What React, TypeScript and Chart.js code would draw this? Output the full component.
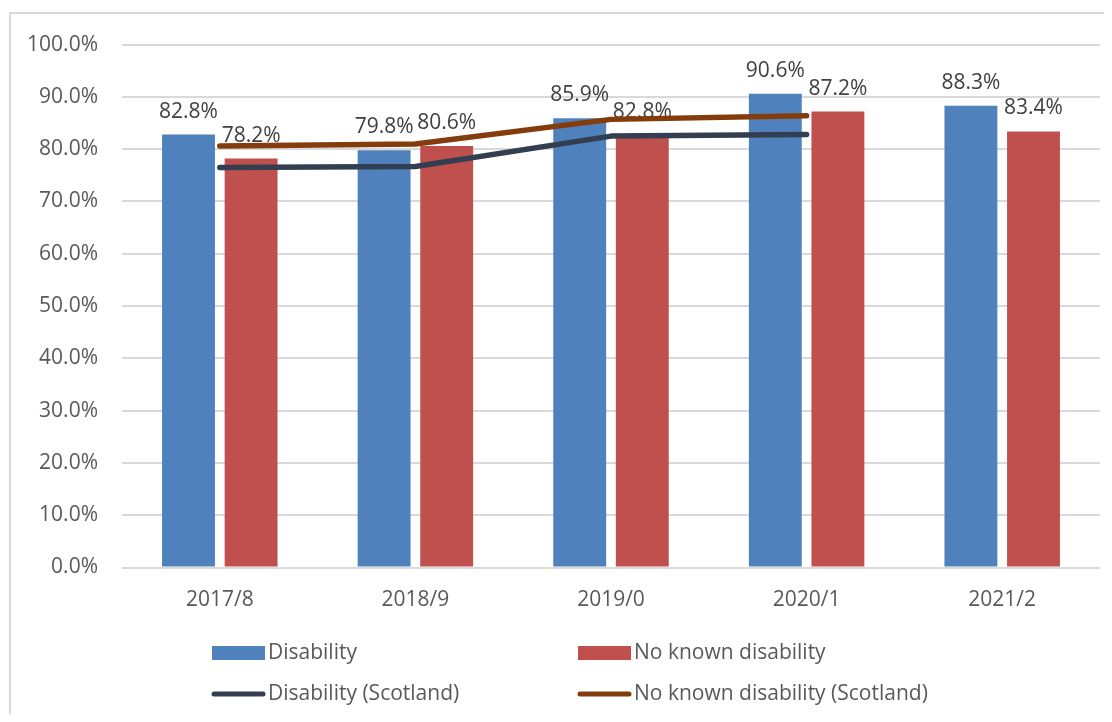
import React, { useEffect, useRef } from 'react';
import { Chart, registerables } from 'chart.js';

Chart.register(...registerables);

const categories = ['2017/8', '2018/9', '2019/0', '2020/1', '2021/2'];
const disability = [82.8, 79.8, 85.9, 90.6, 88.3];
const noKnownDisability = [78.2, 80.6, 82.8, 87.2, 83.4];
const disabilityScotland: (number | null)[] = [76.5, 76.7, 82.5, 82.8, null];
const noKnownDisabilityScotland: (number | null)[] = [80.6, 81.0, 85.7, 86.4, null];
const seriesNames = ['Disability', 'No known disability', 'Disability (Scotland)', 'No known disability (Scotland)'];

const FONT = "'Open Sans', 'Noto Sans', sans-serif";
const W = 1104;
const H = 706;

const barLabelPlugin = {
  id: 'barLabels',
  afterDatasetDraw(chart: any, args: any) {
    const ds = chart.data.datasets[args.index];
    if (ds.type !== 'bar') return;
    const ctx = chart.ctx;
    ctx.save();
    ctx.font = `21px ${FONT}`;
    ctx.fillStyle = '#404040';
    ctx.textAlign = 'center';
    ctx.textBaseline = 'alphabetic';
    args.meta.data.forEach((el: any, i: number) => {
      const v = ds.data[i];
      if (v == null) return;
      ctx.fillText(v.toFixed(1) + '%', el.x, el.y - 17);
    });
    ctx.restore();
  },
};

const legendPlugin = {
  id: 'gridLegend',
  afterDraw(chart: any) {
    const ctx = chart.ctx;
    const cols = [204, 570];
    const rows = [645, 686];
    ctx.save();
    ctx.font = `21px ${FONT}`;
    ctx.textBaseline = 'middle';
    ctx.textAlign = 'left';
    chart.data.datasets.forEach((ds: any, i: number) => {
      const x = cols[i % 2];
      const y = rows[Math.floor(i / 2)];
      if (ds.type === 'line') {
        ctx.strokeStyle = ds.borderColor;
        ctx.lineWidth = 5;
        ctx.lineCap = 'round';
        ctx.beginPath();
        ctx.moveTo(x + 2, y);
        ctx.lineTo(x + 51, y);
        ctx.stroke();
      } else {
        ctx.fillStyle = ds.backgroundColor;
        ctx.fillRect(x, y - 7, 53, 14);
      }
      ctx.fillStyle = '#595959';
      ctx.fillText(ds.label, x + 56, y);
    });
    ctx.restore();
  },
};

export default function App() {
  const ref = useRef<HTMLCanvasElement>(null);
  useEffect(() => {
    if (!ref.current) return;
    const chart = new Chart(ref.current, {
      type: 'bar',
      data: {
        labels: categories,
        datasets: [
          {
            type: 'bar',
            label: seriesNames[0],
            data: disability,
            backgroundColor: '#4F81BD',
            categoryPercentage: 0.64,
            barPercentage: 0.845,
            order: 2,
          },
          {
            type: 'bar',
            label: seriesNames[1],
            data: noKnownDisability,
            backgroundColor: '#C0504D',
            categoryPercentage: 0.64,
            barPercentage: 0.845,
            order: 2,
          },
          {
            type: 'line',
            label: seriesNames[2],
            data: disabilityScotland,
            borderColor: '#333F50',
            backgroundColor: '#333F50',
            borderWidth: 5.5,
            pointRadius: 0,
            borderCapStyle: 'round',
            borderJoinStyle: 'round',
            spanGaps: false,
            order: 1,
          },
          {
            type: 'line',
            label: seriesNames[3],
            data: noKnownDisabilityScotland,
            borderColor: '#843C0C',
            backgroundColor: '#843C0C',
            borderWidth: 5.5,
            pointRadius: 0,
            borderCapStyle: 'round',
            borderJoinStyle: 'round',
            spanGaps: false,
            order: 1,
          },
        ] as any,
      },
      options: {
        responsive: false,
        animation: false,
        layout: { padding: { top: 32, right: 12, left: 0, bottom: 0 } },
        plugins: {
          legend: { display: false },
          tooltip: { enabled: false },
          title: { display: false },
        },
        scales: {
          x: {
            grid: { display: false, drawTicks: false },
            border: { display: false },
            ticks: {
              color: '#595959',
              font: { family: FONT, size: 21 },
              padding: 20,
            },
            afterFit: (s: any) => {
              s.height = H - 559.5;
            },
          },
          y: {
            min: 0,
            max: 100,
            grid: { color: '#D9D9D9', lineWidth: 2, drawTicks: false },
            border: { display: true, color: '#D9D9D9', width: 0 },
            ticks: {
              stepSize: 10,
              color: '#595959',
              font: { family: FONT, size: 21 },
              padding: 24,
              callback: (v: any) => Number(v).toFixed(1) + '%',
            },
            afterFit: (s: any) => {
              s.width = 114;
            },
          },
        },
      },
      plugins: [barLabelPlugin, legendPlugin],
    });
    return () => chart.destroy();
  }, []);

  return (
    <div style={{ position: 'relative', width: W, height: H, overflow: 'hidden', background: '#fff' }}>
      <div
        style={{
          position: 'absolute',
          left: 1,
          top: 4,
          width: 1200,
          height: 900,
          border: '2px solid #D9D9D9',
          boxSizing: 'border-box',
        }}
      />
      <canvas ref={ref} width={W} height={H} style={{ position: 'absolute', left: 0, top: 0 }} />
    </div>
  );
}
